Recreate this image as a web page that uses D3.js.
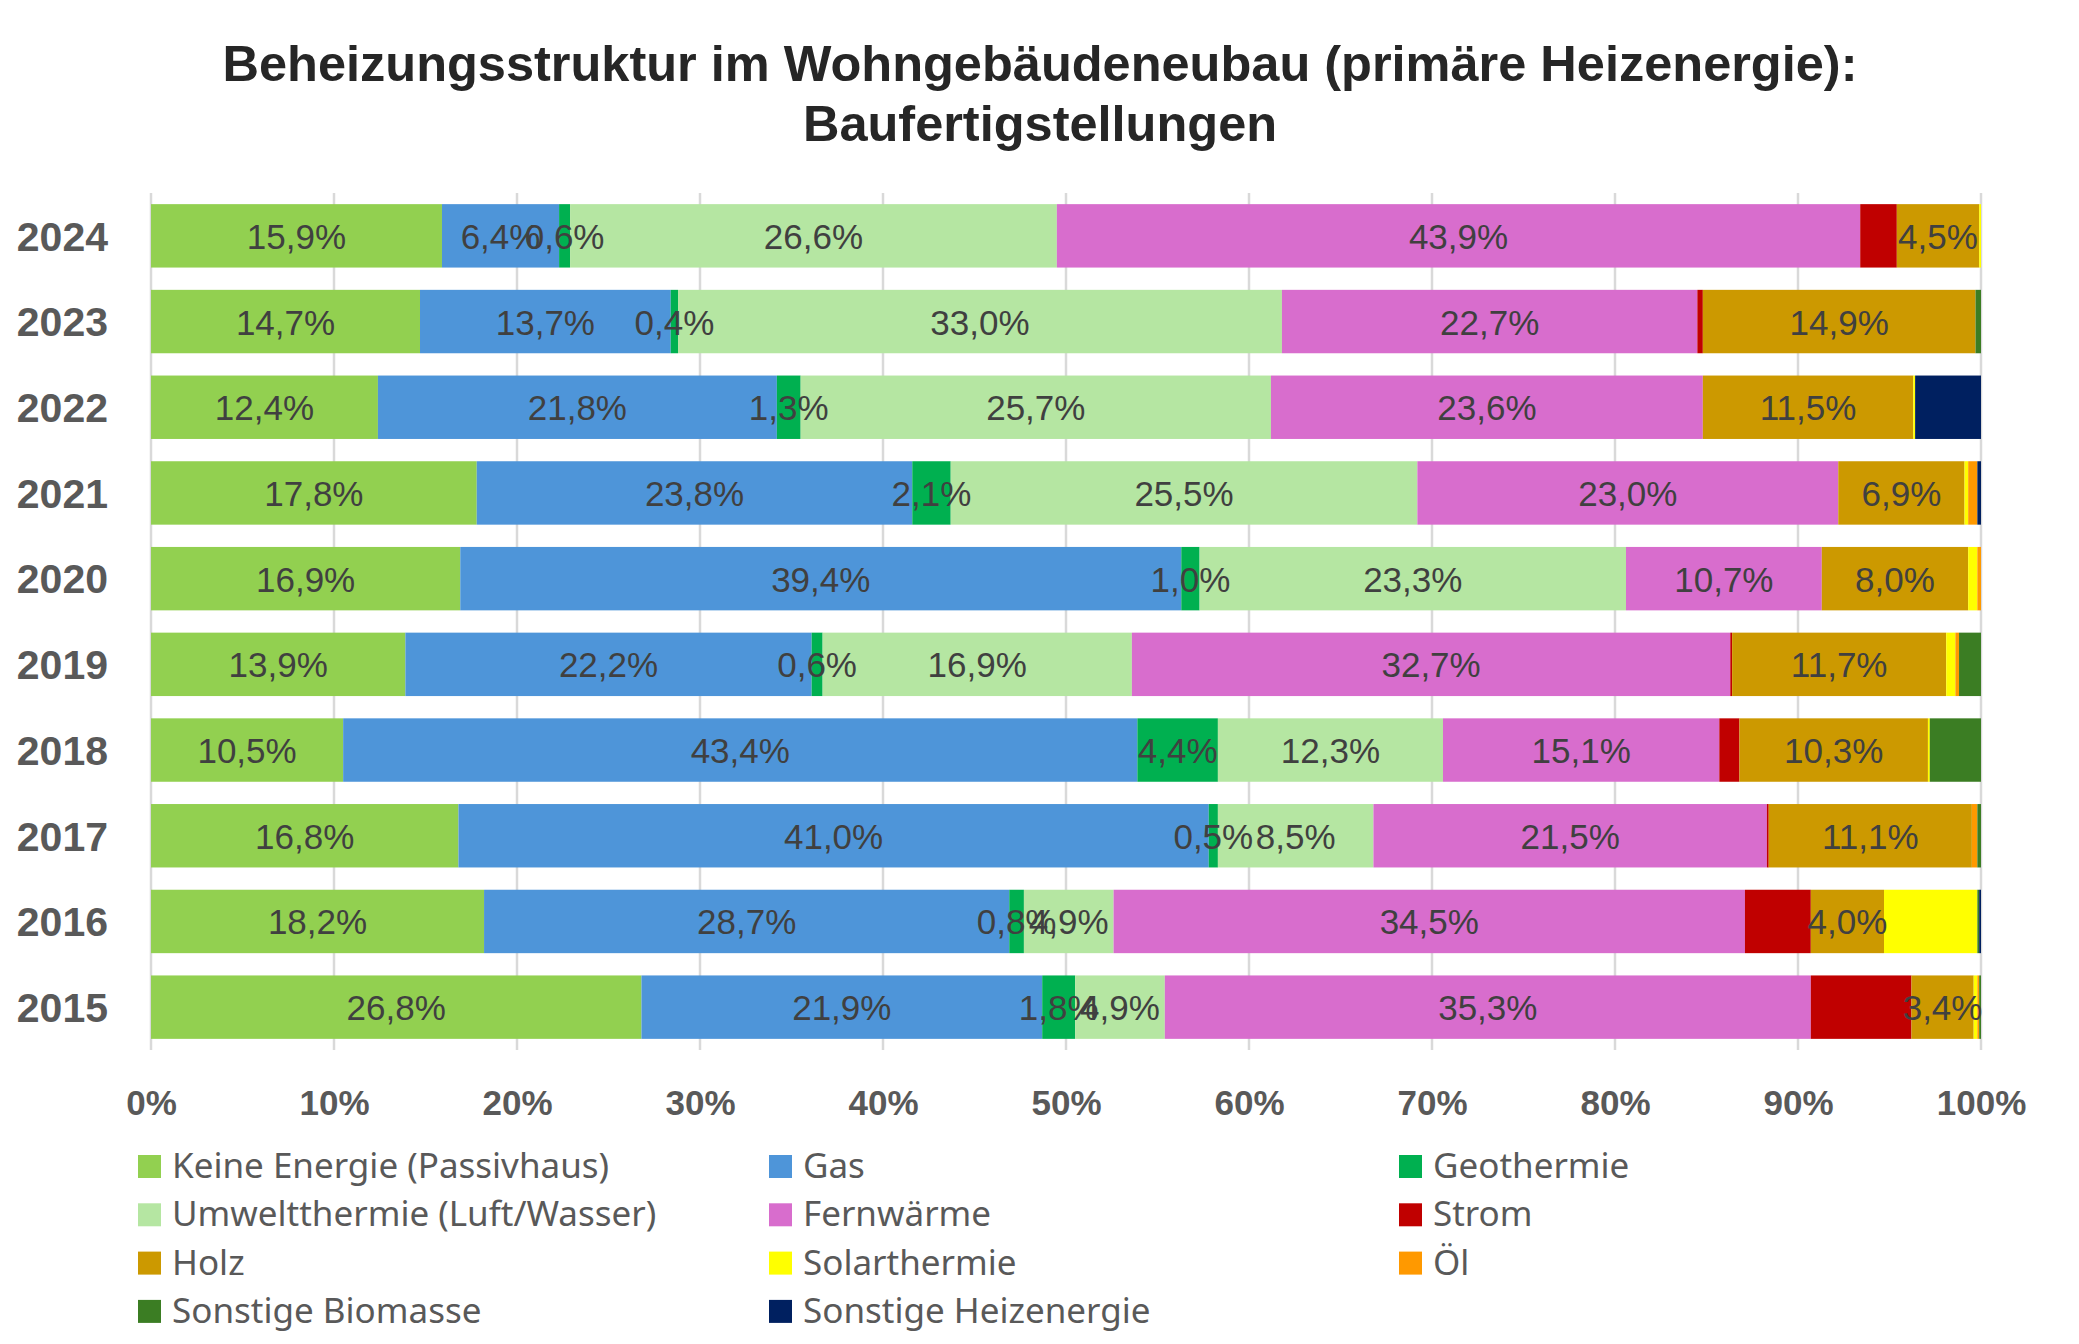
<!DOCTYPE html>
<meta charset="utf-8">
<script src="https://d3js.org/d3.v7.min.js"></script>
<style>
  body { margin: 0; background: #fff; }
</style>
<div id="chart"></div>
<script>
// Jahre (von oben nach unten)
var years = ["2024", "2023", "2022", "2021", "2020", "2019", "2018", "2017", "2016", "2015"];

// Anteile in Prozent je Heizenergie, gleiche Reihenfolge wie years
var keineEnergie   = [15.9, 14.7, 12.4, 17.8, 16.9, 13.9, 10.5, 16.8, 18.2, 26.8];
var gas            = [ 6.4, 13.7, 21.8, 23.8, 39.4, 22.2, 43.4, 41.0, 28.7, 21.9];
var geothermie     = [ 0.6,  0.4,  1.3,  2.1,  1.0,  0.6,  4.4,  0.5,  0.8,  1.8];
var umweltthermie  = [26.6, 33.0, 25.7, 25.5, 23.3, 16.9, 12.3,  8.5,  4.9,  4.9];
var fernwaerme     = [43.9, 22.7, 23.6, 23.0, 10.7, 32.7, 15.1, 21.5, 34.5, 35.3];
var strom          = [ 2.0,  0.3,  0.0,  0.0,  0.0,  0.1,  1.1,  0.1,  3.6,  5.5];
var holz           = [ 4.5, 14.9, 11.5,  6.9,  8.0, 11.7, 10.3, 11.1,  4.0,  3.4];
var solarthermie   = [ 0.1,  0.0,  0.1,  0.2,  0.5,  0.5,  0.1,  0.0,  5.1,  0.2];
var oel            = [ 0.0,  0.0,  0.0,  0.5,  0.2,  0.2,  0.0,  0.3,  0.0,  0.1];
var biomasse       = [ 0.0,  0.3,  0.0,  0.0,  0.0,  1.2,  2.8,  0.2,  0.1,  0.1];
var sonstige       = [ 0.0,  0.0,  3.6,  0.2,  0.0,  0.0,  0.0,  0.0,  0.1,  0.0];

var seriesNames = ["Keine Energie (Passivhaus)", "Gas", "Geothermie", "Umweltthermie (Luft/Wasser)",
  "Fernwärme", "Strom", "Holz", "Solarthermie", "Öl", "Sonstige Biomasse", "Sonstige Heizenergie"];
var seriesValues = [keineEnergie, gas, geothermie, umweltthermie, fernwaerme, strom, holz,
  solarthermie, oel, biomasse, sonstige];
var seriesColors = ["#92D050", "#4E95D9", "#00B050", "#B5E6A2", "#D86DCD", "#C00000",
  "#CC9900", "#FFFF00", "#FF9900", "#3B7D23", "#002060"];
// nur diese Reihen haben Datenbeschriftungen
var labelled = ["Keine Energie (Passivhaus)", "Gas", "Geothermie", "Umweltthermie (Luft/Wasser)", "Fernwärme", "Holz"];

var xTicks = [0, 0.1, 0.2, 0.3, 0.4, 0.5, 0.6, 0.7, 0.8, 0.9, 1];

var W = 2079, H = 1344;
var svg = d3.select("#chart").append("svg")
  .attr("width", W).attr("height", H);

// Tabelle fuer d3.stack
var table = years.map(function(y, i) {
  var row = {year: y};
  seriesNames.forEach(function(n, k) { row[n] = seriesValues[k][i]; });
  return row;
});

var stacked = d3.stack()
  .keys(seriesNames)
  .offset(d3.stackOffsetExpand)(table);

var x = d3.scaleLinear().domain([0, 1]).range([151, 1981]);
var y = d3.scaleBand().domain(years).range([193, 1050])
  .paddingInner(0.26).paddingOuter(0.13);
var color = d3.scaleOrdinal().domain(seriesNames).range(seriesColors);

// Titel
svg.append("text")
  .attr("x", 1040).attr("y", 81)
  .attr("text-anchor", "middle")
  .style("font-family", "'Liberation Sans', Arial, sans-serif")
  .style("font-weight", "bold").style("font-size", "50.5px")
  .attr("fill", "#262626")
  .selectAll("tspan")
  .data(["Beheizungsstruktur im Wohngebäudeneubau (primäre Heizenergie):", "Baufertigstellungen"])
  .join("tspan")
    .attr("x", 1040)
    .attr("dy", function(d, i) { return i === 0 ? 0 : 60; })
    .text(function(d) { return d; });

// Gitterlinien
svg.append("g")
  .selectAll("line")
  .data(xTicks)
  .join("line")
    .attr("x1", function(d) { return x(d); })
    .attr("x2", function(d) { return x(d); })
    .attr("y1", 193).attr("y2", 1050)
    .attr("stroke", "#D9D9D9").attr("stroke-width", 2.5);

// Balken
svg.append("g")
  .selectAll("g")
  .data(stacked)
  .join("g")
    .attr("fill", function(d) { return color(d.key); })
  .selectAll("rect")
  .data(function(d) { return d; })
  .join("rect")
    .attr("x", function(d) { return x(d[0]); })
    .attr("y", function(d) { return y(d.data.year); })
    .attr("width", function(d) { return Math.max(0, x(d[1]) - x(d[0])); })
    .attr("height", y.bandwidth());

// Datenbeschriftungen
var fmt = function(v) { return v.toFixed(1).replace(".", ",") + "%"; };
svg.append("g")
  .selectAll("g")
  .data(stacked.filter(function(s) { return labelled.indexOf(s.key) >= 0; }))
  .join("g")
  .each(function(s) {
    d3.select(this).selectAll("text")
      .data(s.filter(function(d) { return d.data[s.key] > 0; }))
      .join("text")
        .attr("x", function(d) { return (x(d[0]) + x(d[1])) / 2; })
        .attr("y", function(d) { return y(d.data.year) + y.bandwidth() / 2 + 13; })
        .attr("text-anchor", "middle")
        .style("font-family", "'Liberation Sans', Arial, sans-serif")
        .style("font-size", "35px")
        .attr("fill", "#404040")
        .text(function(d) { return fmt(d.data[s.key]); });
  });

// Y-Achse (Jahre)
var yAxis = svg.append("g")
  .attr("transform", "translate(108,0)")
  .call(d3.axisLeft(y).tickSize(0).tickPadding(0));
yAxis.select(".domain").remove();
yAxis.selectAll("text")
  .attr("dy", "0.36em")
  .style("font-family", "'Liberation Sans', Arial, sans-serif")
  .style("font-weight", "bold").style("font-size", "41px")
  .attr("fill", "#595959");

// X-Achse
var xAxis = svg.append("g")
  .attr("transform", "translate(0,1115)")
  .call(d3.axisBottom(x).tickValues(xTicks).tickFormat(d3.format(".0%")).tickSize(0).tickPadding(0));
xAxis.select(".domain").remove();
xAxis.selectAll("text")
  .attr("dy", 0).attr("y", 0)
  .style("font-family", "'Liberation Sans', Arial, sans-serif")
  .style("font-weight", "bold").style("font-size", "35px")
  .attr("fill", "#595959");

// Legende
var colX = [138, 769, 1399];
var legend = svg.append("g")
  .selectAll("g")
  .data(seriesNames)
  .join("g")
    .attr("transform", function(d, i) {
      return "translate(" + colX[i % 3] + "," + (1155 + Math.floor(i / 3) * 48.3) + ")";
    });
legend.append("rect")
  .attr("width", 23).attr("height", 23)
  .attr("fill", function(d) { return color(d); });
legend.append("text")
  .attr("x", 34).attr("y", 23)
  .style("font-family", "'Noto Sans', sans-serif")
  .style("font-size", "35px")
  .attr("fill", "#595959")
  .text(function(d) { return d; });
</script>
